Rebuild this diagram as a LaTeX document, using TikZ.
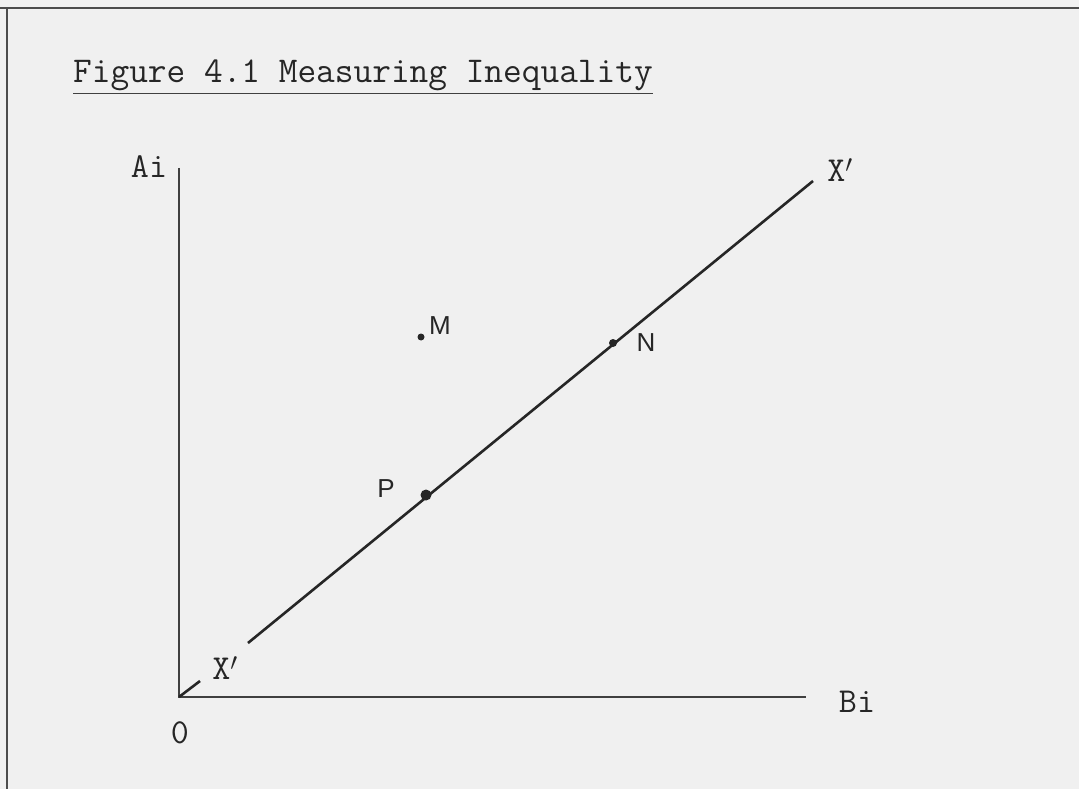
\documentclass[tikz,border=0pt]{standalone}
\usepackage{fontspec}
\newfontfamily\handfont{Liberation Sans}
\begin{document}
\begin{tikzpicture}[x=1pt,y=-1pt,
  lbl/.style={font=\ttfamily\fontsize{35}{37}\selectfont, text=black!85, inner sep=0pt},
  hand/.style={font=\handfont\fontsize{26}{28}\selectfont, text=black!85, inner sep=0pt},
  axis/.style={line width=1.8pt, draw=black!75},
  curve/.style={line width=2.6pt, draw=black!85},
  dot/.style={circle, fill=black!85, inner sep=0pt, minimum size=#1}]
\useasboundingbox (0,0) rectangle (1079,789);
\fill[black!6] (0,0) rectangle (1079,789);
% border
\draw[line width=1.6pt, black!70] (0,8) -- (1079,8);
\draw[line width=1.6pt, black!70] (7,8) -- (7,789);
% title
\node[lbl, anchor=base west, font=\ttfamily\fontsize{36.3}{38}\selectfont] (title) at (73,83) {Figure 4.1 Measuring Inequality};
\draw[line width=1.8pt, black!75] (title.south west) ++(0,2) coordinate (ulA) -- (title.south east |- ulA);
% axes
\coordinate (O) at (179,697);
\coordinate (ytop) at (179,168);
\coordinate (xend) at (806,697);
\draw[axis] (ytop) -- (O) -- (xend);
% diagonal line
\coordinate (d1) at (200,681);
\coordinate (d2) at (248,643);
\coordinate (d3) at (813,181);
\draw[curve] (O) -- (d1);
\draw[curve] (d2) -- (d3);
% points
\node[dot=7pt] (M) at (421,337) {};
\node[dot=8pt] (N) at (613,343) {};
\node[dot=11pt] (P) at (426,495) {};
\node[hand] (Mlbl) at (440,326) {M};
\node[hand] (Nlbl) at (646,343) {N};
\node[hand] (Plbl) at (386,489) {P};
% labels
\node[lbl] (Ai) at (149,167) {Ai};
\node[lbl] (Xtop) at (840,170) {X$'$};
\node[lbl] (Xbot) at (225,668) {X$'$};
\node[lbl] (zero) at (180,733) {0};
\node[lbl] (Bi) at (857,702) {Bi};
\end{tikzpicture}
\end{document}
